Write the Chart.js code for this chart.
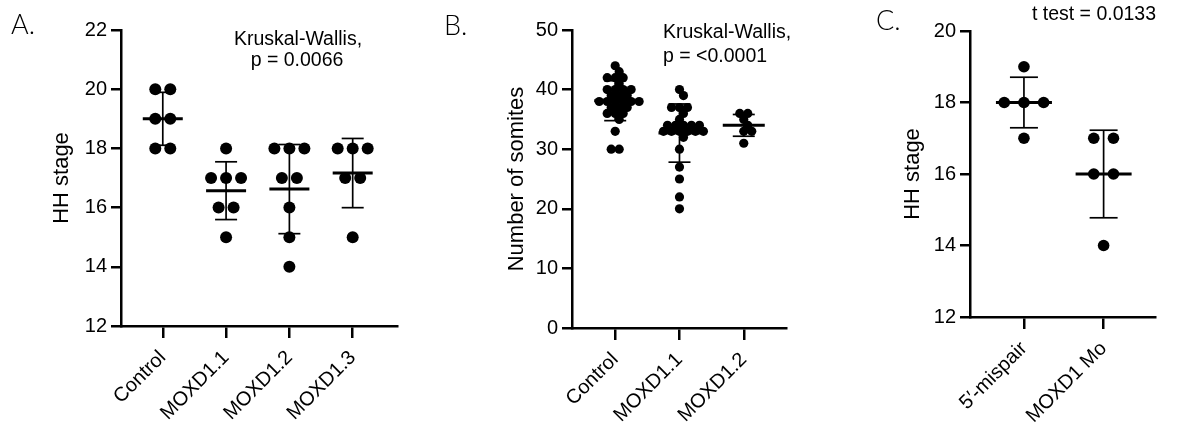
<!DOCTYPE html>
<html>
<head>
<meta charset="utf-8">
<script src="https://cdn.jsdelivr.net/npm/chart.js@4.4.1/dist/chart.umd.min.js"></script>
<style>
  body { margin: 0; background: #fff; width: 1186px; height: 432px; position: relative; overflow: hidden; font-family: "Liberation Sans", Arial, sans-serif; }
  canvas { position: absolute; top: 0; }
  .note { position: absolute; font-size: 19.5px; line-height: 20px; color: #000; white-space: nowrap; }
  .ctr { transform: translateX(-50%); }
  .letter { position: absolute; font-family: Lato, "Noto Sans", sans-serif; font-weight: 300; font-size: 27px; line-height: 28px; color: #000; }
</style>
</head>
<body>
<canvas id="chartA" width="420" height="432" style="left:0px"></canvas>
<canvas id="chartB" width="390" height="432" style="left:420px"></canvas>
<canvas id="chartC" width="346" height="432" style="left:840px"></canvas>

<div class="letter" style="left:11px;top:10px">A.</div>
<div class="letter" style="left:444px;top:11px">B.</div>
<div class="letter" style="left:876px;top:6px">C.</div>

<div class="note ctr" style="left:298px;top:28px">Kruskal-Wallis,</div>
<div class="note ctr" style="left:297px;top:49px">p = 0.0066</div>
<div class="note" style="left:663px;top:21px">Kruskal-Wallis,</div>
<div class="note" style="left:663px;top:45px">p = &lt;0.0001</div>
<div class="note ctr" style="left:1094px;top:3px">t test = 0.0133</div>

<script>
// panel A - HH stage
var groupsA = ["Control", "MOXD1.1", "MOXD1.2", "MOXD1.3"];
var controlA = [20, 20, 19, 19, 18, 18];
var moxd11A = [18, 17, 17, 17, 16, 16, 15];
var moxd12A = [18, 18, 18, 17, 17, 16, 15, 14];
var moxd13A = [18, 18, 18, 17, 17, 15];
var ticksA = [12, 14, 16, 18, 20, 22];

// panel B - number of somites
var groupsB = ["Control", "MOXD1.1", "MOXD1.2"];
var controlB = [44, 43, 42, 42, 42, 41, 40, 40, 40, 40, 39, 39, 39, 38, 38, 38, 38, 38, 38, 37, 37, 37, 36, 36, 36, 35, 33, 30, 30];
var moxd11B = [40, 39, 37, 37, 37, 36, 35, 34, 34, 34, 34, 34, 33, 33, 33, 33, 33, 33, 32, 30, 27, 25, 22, 20];
var moxd12B = [36, 36, 35, 34, 33, 33, 31];
var ticksB = [0, 10, 20, 30, 40, 50];

// panel C - HH stage, t test
var groupsC = ["5\u2032-mispair", "MOXD1 Mo"];
var mispairC = [19, 18, 18, 18, 17];
var moxd1MoC = [17, 17, 16, 16, 14];
var ticksC = [12, 14, 16, 18, 20];

function mean(a) {
    var s = 0;
    for (var i = 0; i < a.length; i++) s += a[i];
    return s / a.length;
}
function sd(a) {
    var m = mean(a), s = 0;
    for (var i = 0; i < a.length; i++) s += (a[i] - m) * (a[i] - m);
    return Math.sqrt(s / (a.length - 1));
}

// spread equal values sideways like a prism scatter, result in x axis units
function swarm(vals, pxX, pxY, step, minDist) {
    var rows = {}, order = [];
    vals.forEach(function (v, i) {
        if (!(v in rows)) { rows[v] = []; order.push(v); }
        rows[v].push(i);
    });
    var placed = [], off = [];
    order.forEach(function (v) {
        var idx = rows[v], k = idx.length;
        for (var n = 0; n < 60; n++) {
            var c = (n % 2 ? 1 : -1) * Math.ceil(n / 2) * step / 2;
            var xs = idx.map(function (_, j) { return c + (j - (k - 1) / 2) * step; });
            var ok = xs.every(function (x) {
                return placed.every(function (p) {
                    var dx = x - p.x, dy = (v - p.v) * pxY;
                    return dx * dx + dy * dy >= minDist * minDist;
                });
            });
            if (ok) {
                xs.forEach(function (x, j) { off[idx[j]] = x; placed.push({ x: x, v: v }); });
                break;
            }
        }
    });
    return off.map(function (o) { return o / pxX; });
}

function makePanel(id, p) {
    var pxX = p.plotW / (p.xMax - p.xMin);
    var pxY = p.plotH / (p.yMax - p.yMin);
    var dots = [], means = [], caps = [];
    var datasets = [];
    p.series.forEach(function (vals, i) {
        var offs = swarm(vals, pxX, pxY, p.step, p.minDist);
        vals.forEach(function (v, j) { dots.push({ x: i + offs[j], y: v }); });
        var m = mean(vals), s = sd(vals);
        means.push({ x: i, y: m });
        caps.push({ x: i, y: m - s });
        caps.push({ x: i, y: m + s });
        datasets.push({
            type: 'line',
            data: [{ x: i, y: m - s }, { x: i, y: m + s }],
            borderColor: '#000',
            borderWidth: 1.7,
            pointRadius: 0
        });
    });
    datasets.push({
        type: 'scatter', data: caps, pointStyle: 'line',
        pointRadius: p.capHalf, borderColor: '#000', borderWidth: 1.7
    });
    datasets.push({
        type: 'scatter', data: means, pointStyle: 'line',
        pointRadius: p.meanHalf, borderColor: '#000', borderWidth: 3
    });
    datasets.push({
        type: 'scatter', data: dots, pointStyle: 'circle',
        pointRadius: p.dotR, backgroundColor: '#000', borderWidth: 0
    });

    return new Chart(document.getElementById(id), {
        type: 'scatter',
        data: { datasets: datasets },
        options: {
            responsive: false,
            animation: false,
            events: [],
            layout: { padding: { top: p.padTop, right: p.padRight, left: 0, bottom: 0 } },
            plugins: { legend: { display: false }, tooltip: { enabled: false } },
            scales: {
                x: {
                    type: 'linear', position: 'bottom',
                    min: p.xMin, max: p.xMax,
                    afterBuildTicks: function (axis) {
                        axis.ticks = p.groups.map(function (_, i) { return { value: i }; });
                    },
                    afterFit: function (axis) { axis.height = p.xH; },
                    ticks: {
                        autoSkip: false, minRotation: 45, maxRotation: 45,
                        color: '#000', font: { family: 'Liberation Sans', size: 20 }, padding: 8,
                        callback: function (v) { return p.groups[v]; }
                    },
                    grid: { display: true, drawOnChartArea: false, drawTicks: true, tickLength: 12, color: '#000', lineWidth: 2.5 },
                    border: { display: true, color: '#000', width: 2.5 }
                },
                y: {
                    type: 'linear', position: 'left',
                    min: p.yMin, max: p.yMax,
                    afterBuildTicks: function (axis) {
                        axis.ticks = p.yTicks.map(function (v) { return { value: v }; });
                    },
                    afterFit: function (axis) { axis.width = p.yW; },
                    ticks: { color: '#000', font: { family: 'Liberation Sans', size: 20 }, padding: 4 },
                    grid: { display: true, drawOnChartArea: false, drawTicks: true, tickLength: 10, color: '#000', lineWidth: 2.5 },
                    border: { display: true, color: '#000', width: 2.5 },
                    title: {
                        display: true, text: p.yTitle, color: '#000',
                        font: { family: 'Liberation Sans', size: 22 },
                        padding: { top: p.titlePad, bottom: 0 }
                    }
                }
            }
        }
    });
}

makePanel('chartA', {
    groups: groupsA, series: [controlA, moxd11A, moxd12A, moxd13A],
    xMin: -0.66, xMax: 3.70, yMin: 12, yMax: 22, yTicks: ticksA,
    plotW: 276, plotH: 296, yW: 121, xH: 106, padTop: 30, padRight: 23,
    yTitle: 'HH stage', titlePad: 49,
    dotR: 6, step: 15, minDist: 12, meanHalf: 20, capHalf: 11
});

makePanel('chartB', {
    groups: groupsB, series: [controlB, moxd11B, moxd12B],
    xMin: -0.672, xMax: 2.657, yMin: 0, yMax: 50, yTicks: ticksB,
    plotW: 228, plotH: 298, yW: 152, xH: 104, padTop: 30, padRight: 10,
    yTitle: 'Number of somites', titlePad: 84,
    dotR: 4.6, step: 8.5, minDist: 7, meanHalf: 21, capHalf: 11
});

makePanel('chartC', {
    groups: groupsC, series: [mispairC, moxd1MoC],
    xMin: -0.677, xMax: 1.645, yMin: 12, yMax: 20, yTicks: ticksC,
    plotW: 216, plotH: 292, yW: 130, xH: 115, padTop: 25, padRight: 0,
    yTitle: 'HH stage', titlePad: 60,
    dotR: 5.8, step: 23, minDist: 12, meanHalf: 28, capHalf: 14
});
</script>
</body>
</html>
